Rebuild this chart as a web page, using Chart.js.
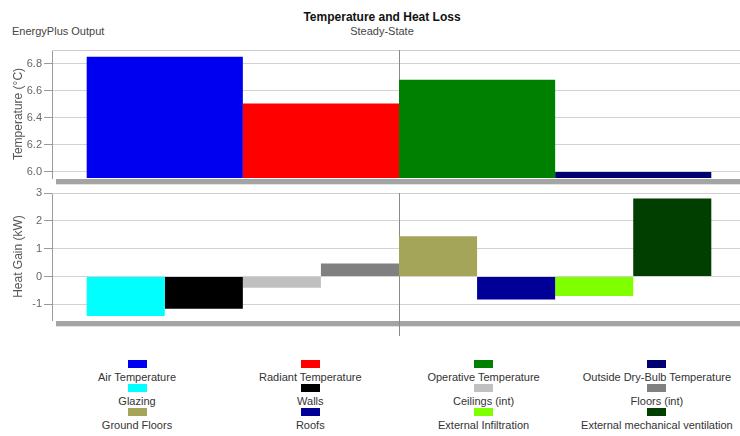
<!DOCTYPE html>
<html>
<head>
<meta charset="utf-8">
<script src="https://cdn.jsdelivr.net/npm/chart.js@4.4.0/dist/chart.umd.min.js"></script>
<style>
  body { margin: 0; width: 740px; height: 436px; overflow: hidden; background: #fff;
         font-family: "Liberation Sans", Arial, sans-serif; position: relative; }
  .txt { position: absolute; color: #333; font-size: 11px; line-height: 13px; white-space: nowrap; }
  .box { position: absolute; }
  #leyenda .item { position: absolute; width: 180px; text-align: center; }
  #leyenda .sq { width: 19px; height: 8px; margin: 0 auto 3px auto; }
  #leyenda .lbl { font-size: 11px; line-height: 13px; color: #333; white-space: nowrap; }
</style>
</head>
<body>
<div class="txt" style="left:232px;width:300px;top:9px;text-align:center;font-weight:bold;font-size:12px;line-height:16px;color:#111">Temperature and Heat Loss</div>
<div class="txt" style="left:12px;top:25px;color:#444">EnergyPlus Output</div>
<div class="txt" style="left:282px;width:200px;top:25px;text-align:center;color:#444">Steady-State</div>

<div class="box" style="left:0;top:0;width:748px;height:190px"><canvas id="grafTemp"></canvas></div>
<div class="box" style="left:0;top:180px;width:748px;height:170px"><canvas id="grafCalor"></canvas></div>
<div id="leyenda"></div>

<script>
// Datos del panel superior (temperaturas)
const tempLabels = ['Air Temperature', 'Radiant Temperature', 'Operative Temperature', 'Outside Dry-Bulb Temperature'];
const tempValues = [6.85, 6.505, 6.68, 6.0];
const tempColors = ['#0000f0', '#ff0000', '#008000', '#000070'];
const tempTicks = [6.0, 6.2, 6.4, 6.6, 6.8];

// Datos del panel inferior (ganancia de calor)
const heatLabels = ['Glazing', 'Walls', 'Ceilings (int)', 'Floors (int)', 'Ground Floors', 'Roofs', 'External Infiltration', 'External mechanical ventilation'];
const heatValues = [-1.42, -1.16, -0.4, 0.47, 1.45, -0.82, -0.7, 2.8];
const heatColors = ['#00ffff', '#000000', '#c0c0c0', '#808080', '#a5a55a', '#000099', '#80ff00', '#003f00'];
const heatTicks = [-1, 0, 1, 2, 3];

Chart.defaults.font.family = '"Liberation Sans", Arial, sans-serif';
Chart.defaults.font.size = 11;
Chart.defaults.color = '#666';

// Suelo gris "3D" y linea vertical central
const pisoPlugin = {
  id: 'piso',
  beforeDatasetsDraw(chart, args, opts) {
    const { ctx, chartArea: a } = chart;
    const cx = Math.round((a.left + a.right) / 2) + 0.5;
    ctx.save();
    ctx.strokeStyle = '#cfcfcf';
    ctx.lineWidth = 1;
    ctx.beginPath();
    ctx.moveTo(a.left, a.top + 0.5);
    ctx.lineTo(a.right, a.top + 0.5);
    ctx.stroke();
    ctx.strokeStyle = '#8a8a8a';
    ctx.beginPath();
    ctx.moveTo(cx, a.top);
    ctx.lineTo(cx, a.bottom);
    ctx.stroke();
    ctx.restore();
  },
  afterDatasetsDraw(chart, args, opts) {
    const { ctx, chartArea: a } = chart;
    const cx = Math.round((a.left + a.right) / 2) + 0.5;
    ctx.save();
    ctx.fillStyle = '#a4a4a4';
    ctx.fillRect(a.left + 4, a.bottom + 1, chart.width, 5);
    ctx.fillStyle = '#e2e2e2';
    ctx.fillRect(a.left + 4, a.bottom + 6, chart.width, 1);
    if (opts.ext) {
      ctx.strokeStyle = '#8a8a8a';
      ctx.lineWidth = 1;
      ctx.beginPath();
      ctx.moveTo(cx, a.bottom);
      ctx.lineTo(cx, a.bottom + opts.ext);
      ctx.stroke();
    }
    ctx.restore();
  }
};

function crearGrafico(id, labels, values, colors, ticks, min, max, titulo, padding, ext, decimales) {
  const datasets = values.map((v, i) => ({
    label: labels[i],
    data: [v],
    backgroundColor: colors[i],
    borderWidth: 0,
    barPercentage: 1,
    categoryPercentage: 0.9
  }));
  return new Chart(document.getElementById(id), {
    type: 'bar',
    data: { labels: [''], datasets: datasets },
    options: {
      responsive: true,
      maintainAspectRatio: false,
      animation: false,
      layout: { padding: padding },
      plugins: {
        legend: { display: false },
        tooltip: { enabled: false },
        piso: { ext: ext }
      },
      scales: {
        x: { display: false },
        y: {
          min: min,
          max: max,
          afterFit(scale) { scale.width = 52; },
          afterBuildTicks(scale) { scale.ticks = ticks.map(v => ({ value: v })); },
          ticks: {
            padding: 2,
            color: '#666',
            callback: v => Number(v).toFixed(decimales)
          },
          grid: { color: '#d2d2d2', tickColor: '#9a9a9a', tickLength: 8 },
          border: { color: '#9a9a9a' },
          title: {
            display: true,
            text: titulo,
            color: '#555',
            font: { size: 12 },
            padding: { top: 11, bottom: 0 }
          }
        }
      }
    },
    plugins: [pisoPlugin]
  });
}

crearGrafico('grafTemp', tempLabels, tempValues, tempColors, tempTicks, 5.955, 6.9,
  'Temperature (°C)', { top: 50, right: 2, bottom: 12, left: 0 }, 0, 1);
crearGrafico('grafCalor', heatLabels, heatValues, heatColors, heatTicks, -1.56, 3,
  'Heat Gain (kW)', { top: 13, right: 2, bottom: 30, left: 0 }, 16, 0);

// Leyenda en 4 columnas, cuadro encima del texto
const leyenda = document.getElementById('leyenda');
const todosLabels = tempLabels.concat(heatLabels);
const todosColores = tempColors.concat(heatColors);
todosLabels.forEach((lbl, i) => {
  const col = i % 4, fila = Math.floor(i / 4);
  const item = document.createElement('div');
  item.className = 'item';
  item.style.left = (137 + 173.3 * col - 90) + 'px';
  item.style.top = (360 + 24 * fila) + 'px';
  item.innerHTML = '<div class="sq" style="background:' + todosColores[i] + '"></div><div class="lbl">' + lbl + '</div>';
  leyenda.appendChild(item);
});
</script>
</body>
</html>
